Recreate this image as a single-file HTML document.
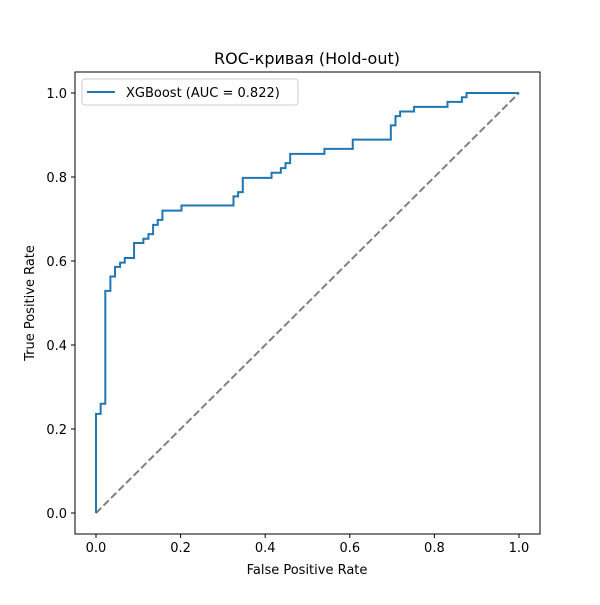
<!DOCTYPE html>
<html><head><meta charset="utf-8"><style>
body{margin:0;background:#fff;}
svg text{font-family:"DejaVu Sans","Liberation Sans",sans-serif;fill:#000;}
</style></head><body>
<svg id="chart" width="600" height="600">
<rect x="0" y="0" width="600" height="600" fill="#fff"/>
<line x1="96" y1="513" x2="519" y2="93" stroke="#808080" stroke-width="2" stroke-dasharray="7.4,3.2"/>
<path id="roc" fill="none" stroke="#1f77b4" stroke-width="2"/>
<rect x="75" y="72" width="465" height="462" fill="none" stroke="#000" stroke-width="1"/>
<g id="ticks"></g>
<text x="307" y="64" font-size="16" text-anchor="middle">ROC-кривая (Hold-out)</text>
<text x="307" y="574" font-size="13" text-anchor="middle">False Positive Rate</text>
<text x="34" y="303" font-size="13" text-anchor="middle" transform="rotate(-90 34 303)">True Positive Rate</text>
<g>
<rect x="82" y="79" width="216" height="26" rx="3" fill="#fff" stroke="#ccc" stroke-width="1"/>
<line x1="87" y1="92" x2="115" y2="92" stroke="#1f77b4" stroke-width="2"/>
<text x="126" y="97" font-size="13">XGBoost (AUC = 0.822)</text>
</g>
</svg>
<script>
const fpr=[0,0.011,0.022,0.034,0.045,0.057,0.068,0.090,0.112,0.124,0.135,0.146,0.157,0.202,0.325,0.336,0.347,0.415,0.437,0.448,0.459,0.540,0.607,0.697,0.708,0.719,0.752,0.831,0.865,0.876,0.886,1.0];
const tpr=[0.236,0.26,0.529,0.563,0.586,0.596,0.607,0.643,0.653,0.664,0.686,0.698,0.72,0.732,0.754,0.764,0.798,0.81,0.821,0.833,0.855,0.867,0.889,0.923,0.945,0.956,0.967,0.979,0.99,1.0,1.0,1.0];
const xTicks=["0.0","0.2","0.4","0.6","0.8","1.0"];
const yTicks=["0.0","0.2","0.4","0.6","0.8","1.0"];
const X=v=>96+v*423, Y=v=>513-v*420;
let d=`M${X(0)},${Y(0)} V${Y(tpr[0])}`;
for(let i=1;i<fpr.length;i++){d+=` H${X(fpr[i])} V${Y(tpr[i])}`;}
document.getElementById('roc').setAttribute('d',d);
const ns="http://www.w3.org/2000/svg",g=document.getElementById('ticks');
function mk(tag,attrs,txt){const e=document.createElementNS(ns,tag);for(const k in attrs)e.setAttribute(k,attrs[k]);if(txt)e.textContent=txt;g.appendChild(e);return e;}
xTicks.forEach(t=>{const x=X(parseFloat(t));
const l=mk('line',{x1:x,y1:534,x2:x,y2:538,stroke:'#000','stroke-width':1});


const tx=mk('text',{x:x,y:552,'font-size':13,'text-anchor':'middle'},t);

});
yTicks.forEach(t=>{const y=Y(parseFloat(t));
const l=mk('line',{x1:71,y1:y,x2:75,y2:y,stroke:'#000','stroke-width':1});


const tx=mk('text',{x:67,y:y+5,'font-size':13,'text-anchor':'end'},t);

});
</script>
</body></html>
